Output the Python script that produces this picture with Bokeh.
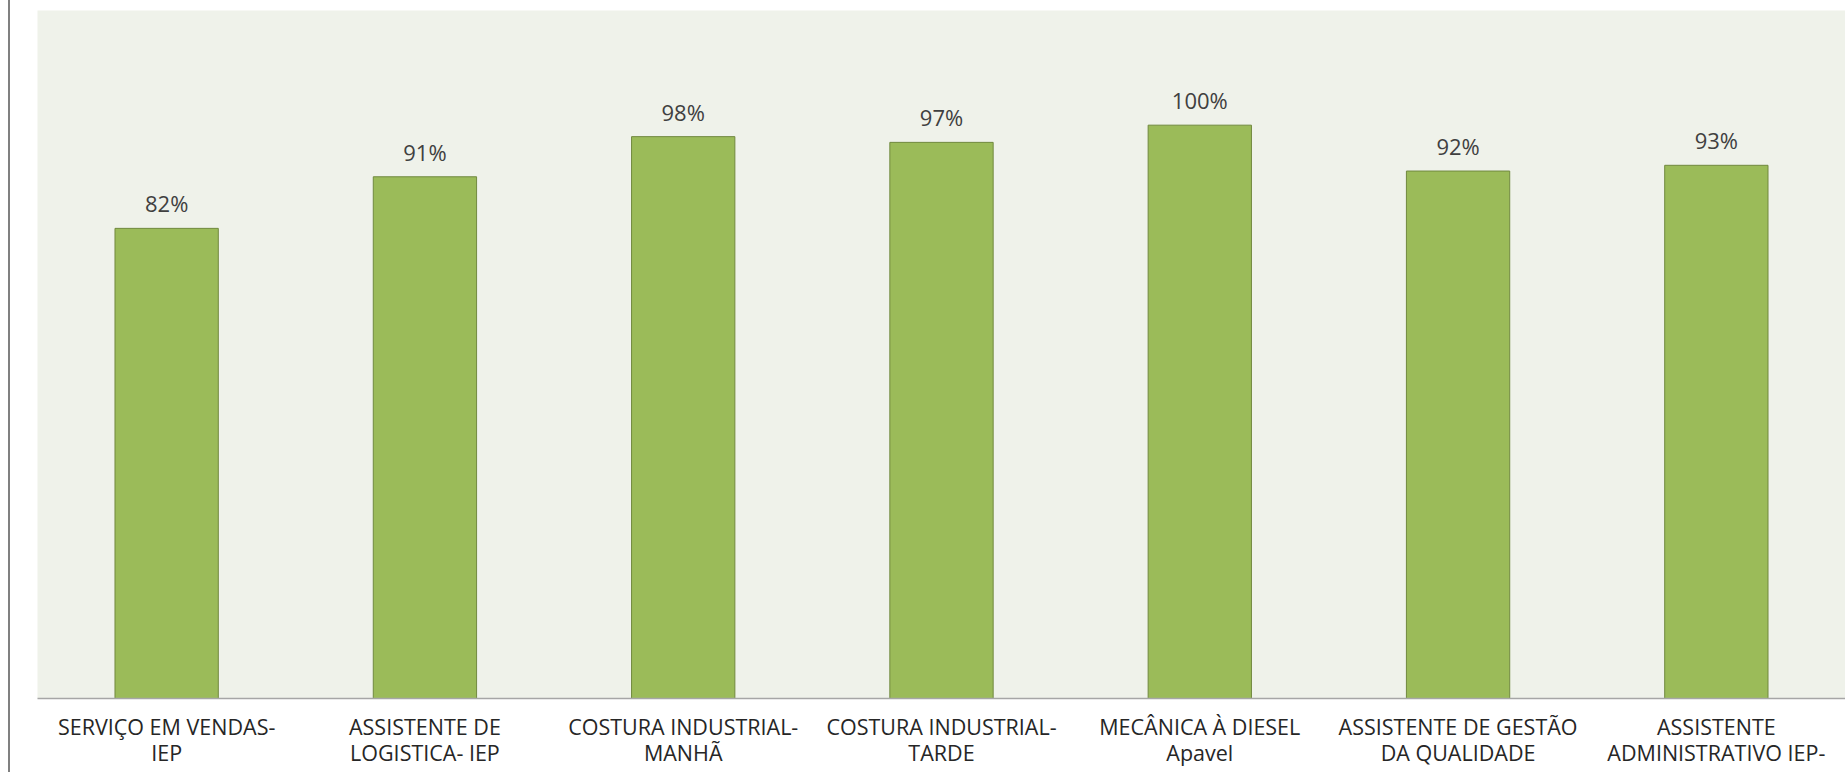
from bokeh.plotting import figure
from bokeh.models import Range1d, FixedTicker, ColumnDataSource, Div
from bokeh.layouts import row
from bokeh.embed import file_html
from bokeh.resources import INLINE
from bokeh.core.properties import value

categories = [
    "SERVIÇO EM VENDAS-\nIEP",
    "ASSISTENTE DE\nLOGISTICA- IEP",
    "COSTURA INDUSTRIAL-\nMANHÃ",
    "COSTURA INDUSTRIAL-\nTARDE",
    "MECÂNICA À DIESEL\nApavel",
    "ASSISTENTE DE GESTÃO\nDA QUALIDADE",
    "ASSISTENTE\nADMINISTRATIVO IEP-",
]
values = [0.82, 0.91, 0.98, 0.97, 1.00, 0.92, 0.93]
value_labels = ["82%", "91%", "98%", "97%", "100%", "92%", "93%"]

FONT = "Open Sans"
n = len(categories)
xpos = [i + 0.5 for i in range(n)]

src = ColumnDataSource(dict(x=xpos, top=values, lab=value_labels))

p = figure(width=1835, height=772, output_backend="svg", toolbar_location=None,
           x_range=Range1d(0, n), y_range=Range1d(0, 1.2),
           min_border_left=27, min_border_right=0, min_border_top=10,
           min_border_bottom=74, margin=0)
p.background_fill_color = "#EFF2EA"
p.border_fill_color = "white"
p.outline_line_color = None
p.grid.visible = False
p.yaxis.visible = False

p.vbar(x="x", top="top", width=0.4, bottom=0, source=src,
       fill_color="#9BBB59", line_color="#71893F", line_width=1)
p.text(x="x", y="top", text="lab", source=src, text_align="center",
       text_baseline="alphabetic", y_offset=-25,
       text_font=value(FONT), text_font_size="22px", text_color="#404040")

ax = p.xaxis[0]
ax.ticker = FixedTicker(ticks=xpos)
ax.major_label_overrides = {x: c for x, c in zip(xpos, categories)}
ax.major_tick_line_color = None
ax.major_tick_out = 0
ax.major_tick_in = 0
ax.minor_tick_line_color = None
ax.minor_tick_out = 0
ax.axis_line_color = "#A6A6A6"
ax.axis_line_width = 1.5
ax.major_label_text_font = FONT
ax.major_label_text_font_size = "21.5px"
ax.major_label_text_line_height = 0.92
ax.major_label_text_color = "#262626"
ax.major_label_standoff = 13

side = Div(width=2, height=772, margin=(0, 0, 0, 8),
           styles={"background-color": "#808080"})
layout = row(side, p, spacing=0)

open("out.html", "w").write(file_html(layout, INLINE))
